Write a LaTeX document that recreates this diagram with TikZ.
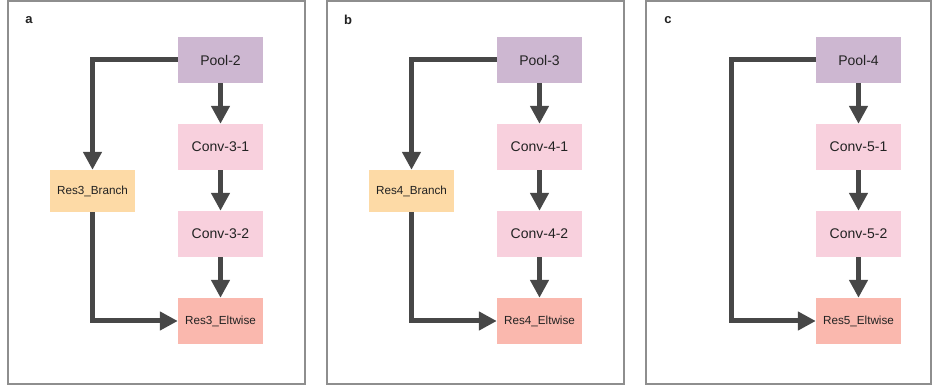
\documentclass[tikz,border=0pt]{standalone}
\usepackage{fontspec}
\setmainfont{Liberation Sans}
\usetikzlibrary{arrows.meta}
\definecolor{poolc}{HTML}{CDB7D1}
\definecolor{convc}{HTML}{F8D0DD}
\definecolor{branchc}{HTML}{FDDAA6}
\definecolor{eltc}{HTML}{FAB8AE}
\definecolor{arrc}{HTML}{474747}
\definecolor{framec}{HTML}{8E8E8E}
\definecolor{txtc}{HTML}{222222}
\begin{document}
\begin{tikzpicture}[x=1pt,y=-1pt,
  layer/.style={minimum width=85pt,minimum height=46pt,inner sep=0pt,text=txtc,
    font=\fontsize{14}{16}\selectfont},
  smalllayer/.style={layer,font=\fontsize{11.7}{14}\selectfont},
  flow/.style={draw=arrc,line width=5pt,-{Triangle[length=18pt,width=18pt]}},
  panel/.style={draw=framec,line width=1.3pt},
  tag/.style={text=txtc,font=\fontsize{13}{15}\selectfont\bfseries}]
\useasboundingbox (0,0) rectangle (935,387);

% Block a
\draw[panel] (8,1) rectangle (305,384);
\node[tag] (taga) at (29,20) {a};
\node[layer,fill=poolc] (pool2) at (220.5,60) {Pool-2};
\node[layer,fill=convc] (conv31) at (220.5,147) {Conv-3-1};
\node[layer,fill=convc] (conv32) at (220.5,234) {Conv-3-2};
\node[smalllayer,fill=eltc] (elt3) at (220.5,321) {Res3\_Eltwise};
\node[smalllayer,fill=branchc,minimum height=42pt] (branch3) at (92.5,191) {Res3\_Branch};
\draw[flow] (pool2) -- (conv31);
\draw[flow] (conv31) -- (conv32);
\draw[flow] (conv32) -- (elt3);
\draw[flow] (pool2.west) -| (branch3.north);
\draw[flow] (branch3.south) |- (elt3.west);

% Block b
\draw[panel] (327,1) rectangle (624,384);
\node[tag] (tagb) at (348,20) {b};
\node[layer,fill=poolc] (pool3) at (539.5,60) {Pool-3};
\node[layer,fill=convc] (conv41) at (539.5,147) {Conv-4-1};
\node[layer,fill=convc] (conv42) at (539.5,234) {Conv-4-2};
\node[smalllayer,fill=eltc] (elt4) at (539.5,321) {Res4\_Eltwise};
\node[smalllayer,fill=branchc,minimum height=42pt] (branch4) at (411.5,191) {Res4\_Branch};
\draw[flow] (pool3) -- (conv41);
\draw[flow] (conv41) -- (conv42);
\draw[flow] (conv42) -- (elt4);
\draw[flow] (pool3.west) -| (branch4.north);
\draw[flow] (branch4.south) |- (elt4.west);

% Block c
\draw[panel] (646,1) rectangle (931,384);
\node[tag] (tagc) at (668,20) {c};
\node[layer,fill=poolc] (pool4) at (858.5,60) {Pool-4};
\node[layer,fill=convc] (conv51) at (858.5,147) {Conv-5-1};
\node[layer,fill=convc] (conv52) at (858.5,234) {Conv-5-2};
\node[smalllayer,fill=eltc] (elt5) at (858.5,321) {Res5\_Eltwise};
\coordinate (bend5) at (731,60);
\draw[flow] (pool4) -- (conv51);
\draw[flow] (conv51) -- (conv52);
\draw[flow] (conv52) -- (elt5);
\draw[flow] (pool4.west) -- (bend5) |- (elt5.west);
\end{tikzpicture}
\end{document}
